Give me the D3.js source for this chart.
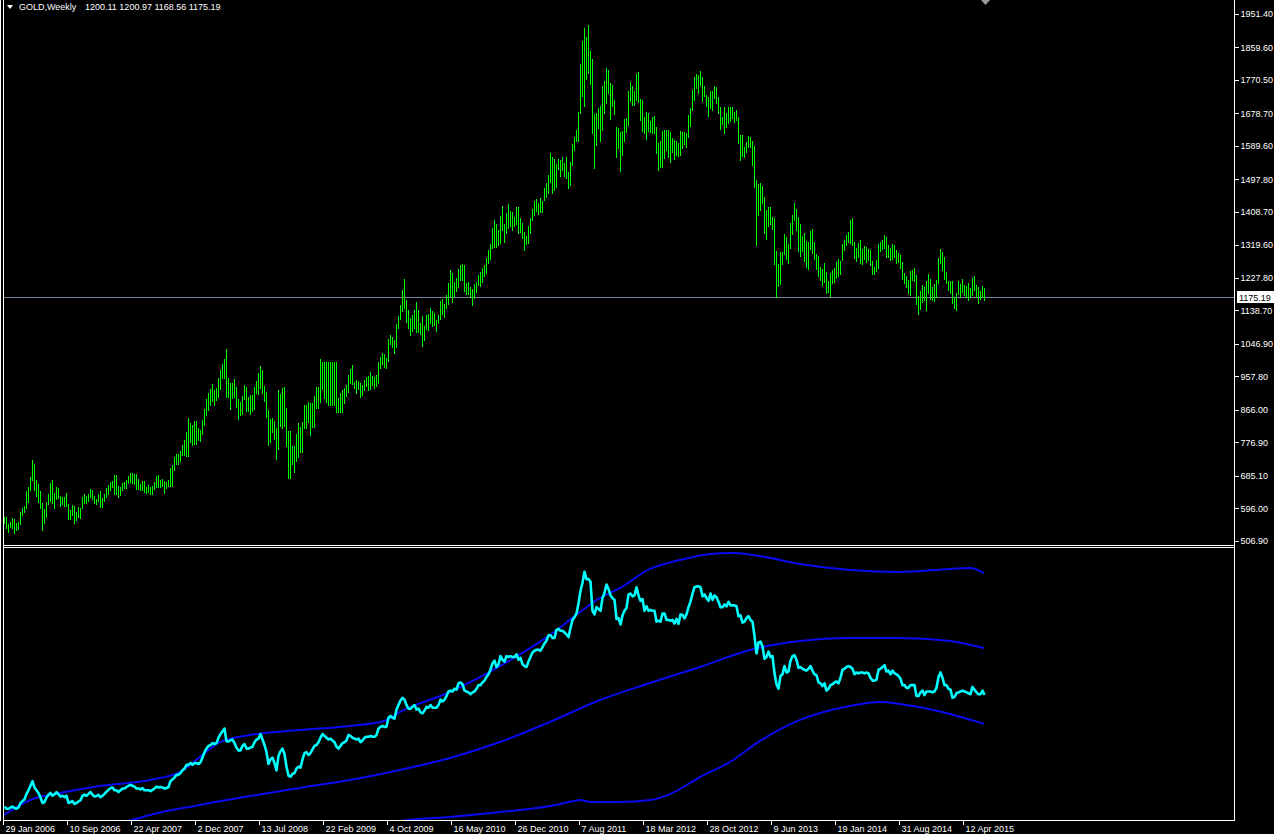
<!DOCTYPE html>
<html><head><meta charset="utf-8">
<script src="https://cdn.jsdelivr.net/npm/d3@7"></script>
<style>html,body{margin:0;padding:0;background:#000;overflow:hidden}svg{display:block}</style>
</head><body><svg id="c" width="1274" height="834"></svg>
<script>
const symbolName = "GOLD,Weekly";
const lastOHLC = ["1200.11", "1200.97", "1168.56", "1175.19"];
const lastClose = 1175.19;
const firstWeek = "29 Jan 2006";
const priceTicks = [1951.40, 1859.60, 1770.50, 1678.70, 1589.60, 1497.80, 1408.70, 1319.60, 1227.80, 1138.70, 1046.90, 957.80, 866.00, 776.90, 685.10, 596.00, 506.90];
const dateTicks = ["29 Jan 2006", "10 Sep 2006", "22 Apr 2007", "2 Dec 2007", "13 Jul 2008", "22 Feb 2009", "4 Oct 2009", "16 May 2010", "26 Dec 2010", "7 Aug 2011", "18 Mar 2012", "28 Oct 2012", "9 Jun 2013", "19 Jan 2014", "31 Aug 2014", "12 Apr 2015"];

const lows = [
555,542,532,544,542,530,537,540,553,578,
587,596,615,647,674,647,630,615,598,537,
557,573,608,616,612,598,622,624,604,608,
604,604,567,567,578,557,564,574,571,596,
610,612,617,628,621,612,608,616,599,601,
617,628,637,647,654,636,636,628,633,648,
653,651,665,669,665,663,649,649,647,647,
642,639,642,636,636,649,656,656,656,658,
639,651,658,658,658,701,718,718,727,743,
743,741,741,779,770,774,773,784,782,800,
825,852,866,880,891,880,893,902,923,955,
953,902,902,869,898,902,875,841,852,855,
895,862,862,
855,864,869,912,910,925,912,892,848,770,
779,805,786,732,759,823,818,823,768,679,
679,718,697,727,738,752,752,818,818,834,
797,820,820,872,872,889,924,898,889,880,
880,881,881,861,861,861,861,884,905,914,
939,937,925,912,923,902,907,921,932,921,
923,934,927,933,941,980,991,983,982,1000,
1046,1040,1023,1040,1092,1115,1136,1145,1108,1092,
1072,1083,1092,1081,1081,1073,1042,1058,1088,1085,
1104,1096,1099,1083,1104,1115,1128,1122,1145,1156,
1178,1163,1178,1192,1202,1222,1222,1192,1183,1183,
1175,1154,1172,1190,1209,1206,1218,1233,1242,1268,
1280,
1309,1314,1314,1318,1325,1358,1327,1350,1364,1370,
1358,1371,1376,1350,1353,1337,1305,1321,1325,1352,
1387,1401,1412,1403,1408,1410,1442,1449,1462,1492,
1462,1469,1478,1526,1507,1524,1507,1501,1475,1483,
1538,1579,1602,1604,1681,1727,1699,1772,1789,1760,
1626,1530,1592,1638,1602,1634,1681,1708,1736,1664,
1699,1677,1559,1583,1522,1565,1604,1629,1647,1713,
1702,1702,1716,1711,1661,1632,1626,1609,1632,1628,
1624,1626,1571,1524,1533,1531,1556,1579,1559,1547,
1574,1553,1565,1562,1565,1583,1595,1588,1615,1644,
1687,1716,1748,1736,1757,1714,1727,1699,1673,1693,
1687,1720,1707,1681,1635,1650,1624,1643,1652,1659,
1666,1656,1661,1597,
1551,1562,1560,1574,1588,1586,1538,1478,1318,1400,
1414,1434,1352,1335,1371,1376,1362,1266,1175,1206,
1211,1266,1294,1280,1270,1309,1348,1387,1358,1303,
1288,1303,1275,1257,1252,1306,1297,1279,1252,1233,
1222,1209,1218,1186,1190,1179,1215,1218,1227,1233,
1238,1277,1305,1318,1327,1325,1318,1282,1275,1284,
1268,1266,1280,1273,1277,1263,1239,1239,1248,1254,
1303,1307,1309,1286,1284,1277,1279,1284,1270,1273,
1254,1224,1213,1204,1186,1181,1222,1220,1157,1129,
1142,1163,1168,1140,1186,1169,1168,1166,1177,1215,
1270,1250,1225,1215,1195,1186,1158,1145,1140,1184,
1175,1190,1181,1177,1168,1175,1181,1195,1177,1160,
1169,1175,1168.56];

const highs = [
574,574,553,560,571,567,557,560,587,596,
603,644,656,683,729,718,674,663,644,612,
595,613,636,665,674,638,656,651,630,628,
628,638,607,592,606,604,587,599,596,628,
636,631,637,649,647,630,622,636,644,624,
636,651,660,669,672,688,688,658,656,665,
668,674,686,693,692,690,690,676,663,671,
671,656,660,654,658,668,685,688,674,677,
671,668,674,708,715,738,745,745,754,770,
784,806,843,831,825,836,836,816,811,839,
869,895,912,924,937,921,925,955,976,992,
1006,1033,953,941,939,951,930,895,889,903,
935,928,901,
907,907,928,945,968,987,976,932,916,866,
840,845,837,818,921,910,927,929,871,808,
808,767,767,800,831,820,834,880,880,889,
886,886,903,929,929,1006,998,998,998,998,
998,998,998,998,898,913,921,925,934,962,
978,989,944,948,945,941,934,948,957,960,
971,960,957,962,998,1012,1023,1019,1009,1061,
1072,1067,1058,1102,1124,1154,1195,1225,1168,1140,
1117,1126,1140,1163,1140,1104,1124,1097,1126,1128,
1146,1137,1131,1113,1126,1166,1170,1157,1181,1215,
1250,1242,1218,1229,1252,1263,1265,1263,1213,1218,
1202,1197,1210,1216,1236,1245,1254,1263,1282,1305,
1321,
1364,1387,1376,1359,1398,1425,1376,1405,1431,1412,
1410,1394,1422,1423,1391,1378,1355,1343,1369,1391,
1416,1440,1444,1434,1446,1440,1475,1489,1510,1571,
1560,1553,1540,1553,1551,1559,1542,1559,1517,1547,
1595,1613,1634,1682,1814,1877,1914,1887,1921,1850,
1828,1677,1679,1695,1699,1754,1768,1803,1798,1761,
1757,1716,1643,1640,1629,1631,1663,1667,1740,1764,
1754,1740,1786,1792,1719,1716,1668,1684,1681,1658,
1670,1672,1641,1599,1602,1631,1634,1634,1634,1629,
1611,1606,1604,1599,1631,1629,1627,1624,1675,1693,
1743,1780,1787,1784,1796,1780,1754,1729,1725,1741,
1739,1754,1750,1723,1697,1670,1696,1679,1697,1696,
1697,1682,1687,1670,
1620,1620,1588,1601,1617,1613,1603,1590,1496,1485,
1487,1480,1451,1414,1423,1423,1396,1393,1302,1266,
1298,1298,1348,1341,1321,1378,1400,1432,1417,1396,
1376,1343,1350,1329,1327,1357,1362,1327,1294,1288,
1259,1252,1268,1245,1220,1241,1250,1254,1273,1280,
1275,1321,1332,1346,1353,1387,1391,1327,1309,1325,
1332,1307,1316,1314,1307,1305,1274,1259,1277,1321,
1326,1332,1346,1341,1318,1309,1321,1318,1305,1295,
1291,1273,1241,1233,1222,1248,1250,1254,1236,1178,
1193,1209,1204,1220,1239,1225,1204,1211,1222,1282,
1307,1298,1284,1243,1220,1220,1220,1177,1188,1220,
1210,1225,1209,1207,1213,1201,1227,1233,1209,1202,
1193,1206,1200.97];

const closes = [
560,548,548,555,560,552,548,555,580,590,
600,630,650,675,700,665,650,635,610,580,
585,610,625,635,620,628,640,628,615,620,
612,620,580,585,590,575,580,588,595,620,
625,620,630,640,625,615,618,625,612,620,
630,642,652,662,665,650,650,640,650,660,
660,668,675,680,675,670,660,660,655,662,
650,650,650,645,652,660,670,665,668,665,
660,662,668,700,710,720,735,735,745,760,
770,790,790,800,790,800,800,795,805,830,
860,880,895,900,910,905,910,940,960,975,
990,920,920,925,930,910,885,870,870,895,
905,880,880,
885,890,915,930,935,960,930,900,860,795,
820,830,800,760,840,865,880,850,780,730,
725,740,745,770,780,775,820,855,860,845,
855,875,895,900,915,940,960,950,940,930,
935,925,915,890,880,895,910,915,925,955,
950,940,935,930,935,915,925,940,945,945,
950,945,945,955,990,1000,1005,1000,1000,1050,
1060,1050,1045,1095,1120,1145,1160,1150,1120,1100,
1100,1110,1120,1095,1100,1080,1075,1090,1110,1105,
1120,1105,1105,1105,1120,1150,1140,1150,1170,1195,
1200,1195,1210,1205,1240,1245,1235,1200,1195,1190,
1180,1190,1195,1210,1230,1230,1245,1255,1275,1290,
1315,
1350,1365,1330,1345,1390,1370,1360,1390,1385,1390,
1385,1385,1400,1370,1380,1345,1335,1330,1360,1385,
1410,1420,1425,1425,1420,1440,1460,1475,1505,1505,
1490,1490,1535,1540,1530,1530,1520,1510,1495,1545,
1590,1605,1625,1680,1750,1795,1855,1815,1815,1800,
1640,1620,1660,1650,1640,1710,1740,1785,1760,1725,
1710,1700,1595,1600,1565,1615,1640,1655,1730,1735,
1720,1725,1770,1725,1695,1705,1640,1665,1640,1645,
1640,1640,1580,1585,1580,1625,1625,1590,1590,1585,
1590,1570,1595,1568,1620,1618,1598,1620,1660,1690,
1735,1770,1775,1775,1770,1720,1730,1710,1695,1735,
1700,1725,1715,1690,1660,1660,1675,1665,1690,1670,
1670,1670,1665,1610,
1615,1575,1580,1600,1610,1590,1580,1500,1405,1465,
1470,1445,1375,1385,1415,1385,1390,1295,1235,1210,
1280,1290,1335,1300,1305,1365,1390,1395,1370,1325,
1330,1320,1315,1310,1320,1335,1310,1290,1285,1245,
1240,1225,1240,1200,1210,1230,1235,1245,1250,1240,
1270,1315,1320,1330,1335,1330,1320,1290,1300,1295,
1300,1300,1295,1300,1295,1270,1255,1255,1260,1315,
1320,1330,1340,1305,1310,1290,1310,1295,1290,1280,
1265,1230,1230,1215,1215,1230,1230,1230,1170,1170,
1190,1200,1175,1195,1195,1195,1190,1195,1215,1275,
1300,1270,1230,1230,1210,1205,1160,1165,1185,1190,
1195,1200,1195,1190,1185,1180,1220,1205,1190,1180,
1180,1200,1175.19];

// indicator bands read from the lower window: [week number, value]
const upperBand = [[1,514],[14,596],[29,635],[49,674],[74,707],[89,751],[99,834],[109,916],[124,955],[149,982],[174,1005],[191,1032],[199,1082],[224,1192],[249,1335],[274,1507],[289,1633],[299,1711],[309,1766],[324,1871],[339,1920],[354,1953],[366,1959],[379,1942],[399,1898],[424,1865],[449,1854],[474,1871],[484,1876],[491,1848]];
const middleBand = [[50,440],[65,486],[74,514],[99,569],[124,618],[149,663],[174,707],[199,762],[224,828],[249,916],[274,1027],[299,1148],[324,1242],[349,1330],[374,1424],[399,1473],[424,1490],[449,1490],[474,1473],[491,1435]];
const lowerBand = [[180,440],[203,486],[224,503],[249,530],[274,563],[286,591],[289,596],[294,585],[309,585],[324,596],[334,629],[349,723],[364,806],[379,922],[399,1038],[424,1115],[439,1137],[449,1126],[474,1071],[491,1016]];

const svg = d3.select("#c");
const W = 1274, H = 834;
svg.append("rect").attr("width", W).attr("height", H).attr("fill", "#000");

const n = highs.length;
const parseD = d3.utcParse("%d %b %Y");
const start = parseD(firstWeek);
const weeks = d3.range(n).map(i => d3.utcSunday.offset(start, i));
const x = d3.scaleUtc().domain([weeks[0], weeks[n - 1]]).range([4, 984]);
const y = d3.scaleLinear().domain([506.9, 1951.4]).range([541, 14]);
const ys = d3.scaleLinear().domain([486, 1981]).range([820, 549]);

const defs = svg.append("defs");
defs.append("clipPath").attr("id", "cm").append("rect").attr("x", 4).attr("y", 0).attr("width", 1230).attr("height", 545);
defs.append("clipPath").attr("id", "cs").append("rect").attr("x", 4).attr("y", 548).attr("width", 1230).attr("height", 272);

const font = "'Liberation Sans', Arial, sans-serif";

// main price bars
const gMain = svg.append("g").attr("clip-path", "url(#cm)");
gMain.append("line").attr("x1", 4).attr("x2", 1234)
  .attr("y1", Math.round(y(lastClose)) + 0.5).attr("y2", Math.round(y(lastClose)) + 0.5)
  .attr("stroke", "#778899").attr("stroke-width", 1);
gMain.selectAll("line.bar").data(d3.range(n)).join("line").attr("class", "bar")
  .attr("x1", i => Math.round(x(weeks[i])) + 0.5)
  .attr("x2", i => Math.round(x(weeks[i])) + 0.5)
  .attr("y1", i => Math.round(y(highs[i])))
  .attr("y2", i => Math.round(y(lows[i])) + 1)
  .attr("stroke", "#00ff00").attr("stroke-width", 1).attr("shape-rendering", "crispEdges");

// lower window
const gSub = svg.append("g").attr("clip-path", "url(#cs)");
const bandLine = d3.line().x(d => x(weeks[d[0] - 1])).y(d => ys(d[1])).curve(d3.curveMonotoneX);
[upperBand, middleBand, lowerBand].forEach(b => {
  gSub.append("path").attr("d", bandLine(b)).attr("fill", "none").attr("stroke", "#0a0af0").attr("stroke-width", 2);
});
const closeLine = d3.line().x((d, i) => x(weeks[i]) + 0.5).y(d => ys(d));
gSub.append("path").attr("d", closeLine(closes)).attr("fill", "none").attr("stroke", "#00ffff").attr("stroke-width", 2.6).attr("stroke-linejoin", "round");

// frames
const frame = svg.append("g").attr("stroke", "#fff").attr("stroke-width", 1).attr("shape-rendering", "crispEdges");
frame.append("line").attr("x1", 0.5).attr("x2", 0.5).attr("y1", 0).attr("y2", 821);
frame.append("line").attr("x1", 3.5).attr("x2", 3.5).attr("y1", 0).attr("y2", 821);
frame.append("line").attr("x1", 1234.5).attr("x2", 1234.5).attr("y1", 0).attr("y2", 821);
frame.append("line").attr("x1", 3).attr("x2", 1235).attr("y1", 545.5).attr("y2", 545.5);
frame.append("line").attr("x1", 3).attr("x2", 1235).attr("y1", 547.5).attr("y2", 547.5);
frame.append("line").attr("x1", 3).attr("x2", 1235).attr("y1", 820.5).attr("y2", 820.5);

// price axis
const ay = svg.append("g").attr("transform", "translate(1234.5,0)")
  .call(d3.axisRight(y).tickValues(priceTicks).tickSize(4).tickPadding(2).tickFormat(d3.format(".2f")));
ay.select(".domain").remove();
ay.selectAll("line").attr("stroke", "#fff").attr("shape-rendering", "crispEdges");
ay.selectAll("text").attr("fill", "#fff").attr("font-family", font).attr("font-size", 9);

// current price label
const cy = Math.round(y(lastClose));
svg.append("rect").attr("x", 1237).attr("y", cy - 6).attr("width", 37).attr("height", 12).attr("fill", "#fff");
svg.append("text").attr("x", 1239).attr("y", cy + 3.5).attr("fill", "#000").attr("font-family", font).attr("font-size", 9).text(d3.format(".2f")(lastClose));

// date axis
const fmt = d3.utcFormat("%-d %b %Y");
const ax = svg.append("g").attr("transform", "translate(0,820.5)")
  .call(d3.axisBottom(x).tickValues(dateTicks.map(parseD)).tickSize(4).tickFormat(fmt));
ax.select(".domain").remove();
ax.selectAll(".tick line").attr("stroke", "#fff").attr("transform", "translate(-1,0)").attr("shape-rendering", "crispEdges");
ax.selectAll("text").attr("fill", "#fff").attr("font-family", font).attr("font-size", 9)
  .attr("text-anchor", "start").attr("x", 1).attr("y", 5);

// header
svg.append("path").attr("d", "M7,5 L13,5 L10,9 Z").attr("fill", "#fff");
const hdr = svg.append("text").attr("y", 10).attr("fill", "#fff").attr("font-family", font).attr("font-size", 9);
hdr.append("tspan").attr("x", 19).text(symbolName);
hdr.append("tspan").attr("x", 85).text(lastOHLC.join(" "));

// chart shift marker
svg.append("path").attr("d", "M981,0 L990,0 L985.5,5 Z").attr("fill", "#9a9a9a");
</script>
</body></html>
